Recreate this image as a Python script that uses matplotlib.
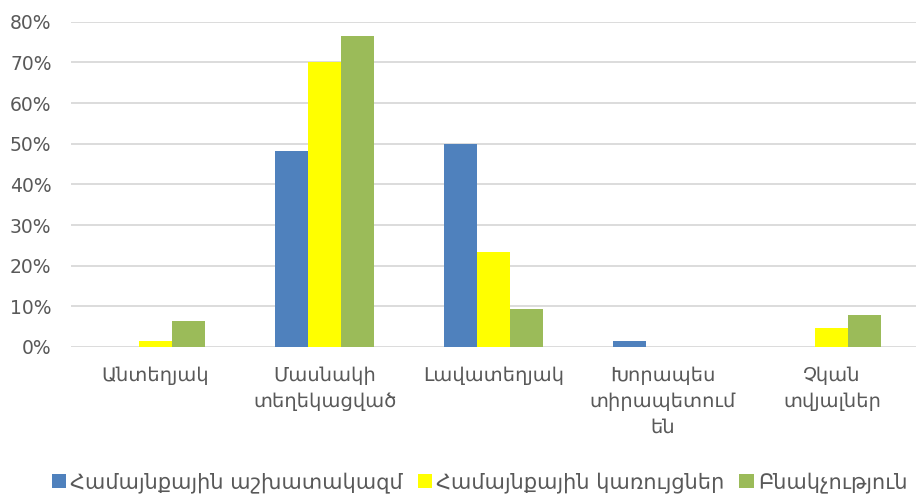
import matplotlib
matplotlib.use("Agg")
import matplotlib.pyplot as plt
import numpy as np
from matplotlib.ticker import PercentFormatter

plt.rcParams['font.family'] = ['DejaVu Sans', 'Noto Sans']

# tvyalner
kategoriayner = ["Անտեղյակ", "Մասնակի\nտեղեկացված", "Լավատեղյակ",
                 "Խորապես\nտիրապետում\nեն", "Չկան\nտվյալներ"]
sharqer = ["Համայնքային աշխատակազմ", "Համայնքային կառույցներ", "Բնակչություն"]
ashkhatakazm = [0.0, 48.3, 50.0, 1.5, 0.0]
karuycner = [1.5, 70.2, 23.3, 0.0, 4.7]
bnakchutyun = [6.3, 76.5, 9.4, 0.0, 7.8]
guyner = ["#4F81BD", "#FFFF00", "#9BBB59"]

fig = plt.figure(figsize=(9.17, 4.97), dpi=100)
ax = fig.add_axes([0.0774, 0.302, 0.922, 0.654])

x = np.arange(len(kategoriayner))
w = 0.195
for i, (arzheqner, anun) in enumerate(zip([ashkhatakazm, karuycner, bnakchutyun], sharqer)):
    ax.bar(x + (i - 1) * w, arzheqner, w, color=guyner[i], label=anun, zorder=3)

ax.set_xlim(-0.5, len(kategoriayner) - 0.5)
ax.set_ylim(0, 80)
ax.set_yticks(range(0, 81, 10))
ax.yaxis.set_major_formatter(PercentFormatter(decimals=0))
ax.set_xticks(x)
ax.set_xticklabels(kategoriayner, fontsize=14, color="#595959", linespacing=1.45)
ax.tick_params(axis='y', labelsize=13.5, labelcolor="#595959", length=0, pad=14)
ax.tick_params(axis='x', length=0, pad=14)
ax.grid(axis='y', color="#D9D9D9", linewidth=1.3, zorder=0)
for s in ax.spines.values():
    s.set_visible(False)

fig.legend(loc='lower center', bbox_to_anchor=(0.523, 0.0), ncol=3, frameon=False,
           fontsize=15, labelcolor="#595959", handlelength=0.7, handleheight=0.7,
           handletextpad=0.2, columnspacing=0.7, borderaxespad=0.1, borderpad=0.1)

fig.savefig("out.png", dpi=100)
